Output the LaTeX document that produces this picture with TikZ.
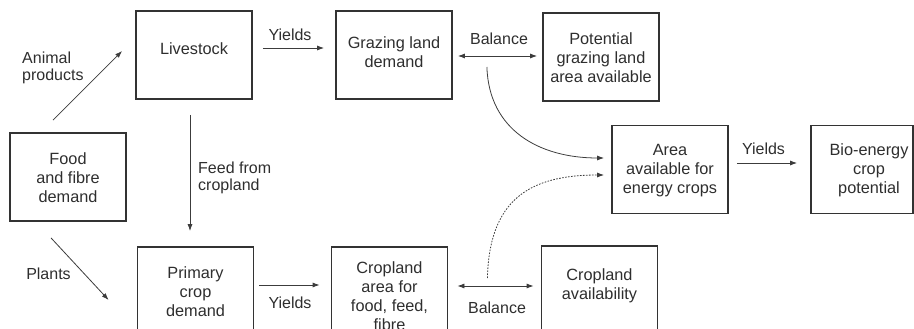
\documentclass[tikz,border=0pt]{standalone}
\usepackage{fontspec}
\setmainfont{Liberation Sans}
\usetikzlibrary{arrows.meta,calc}
\definecolor{boxc}{HTML}{333333}
\definecolor{txtc}{HTML}{2E2E2E}
\definecolor{linec}{HTML}{3C3C3C}
% first baseline of the text is placed #1 above the node centre
\newcommand\btext[2]{\raisebox{#1}[0pt][0pt]{\begin{tabular}[t]{@{}c@{}}#2\end{tabular}}}
\begin{document}
\begin{tikzpicture}[x=1pt,y=-1pt,
  box/.style={draw=boxc,line width=1.8pt,minimum width=116pt,minimum height=88pt,inner sep=0pt,text=txtc,font=\fontsize{16.3}{19}\selectfont},
  lab/.style={text=txtc,font=\fontsize{16}{17}\selectfont,inner sep=0pt},
  tip/.tip={Latex[length=7pt,width=5pt]},
  arr/.style={draw=linec,line width=0.8pt,-tip},
  darr/.style={draw=linec,line width=0.8pt,tip-tip}]
\useasboundingbox (0,0) rectangle (914,329);
\clip (0,0) rectangle (914,329);
% boxes
\node[box] (food) at (68,177) {\btext{12.7pt}{Food\\and fibre\\demand}};
\node[box] (live) at (194,55) {\btext{0pt}{Livestock}};
\node[box] (graz) at (394,55) {\btext{6.5pt}{Grazing land\\demand}};
\node[box] (pot) at (601,57) {\btext{12.5pt}{Potential\\grazing land\\area available}};
\node[box] (area) at (670,169.5) {\btext{14.5pt}{Area\\available for\\energy crops}};
\node[box,minimum width=102pt] (bio) at (862,169.5) {\hspace*{14pt}\btext{14.5pt}{Bio-energy\\crop\\potential}};
\node[box] (prim) at (195.5,291) {\btext{12.7pt}{Primary\\crop\\demand}};
\node[box] (cropa) at (389.5,291) {\btext{17.7pt}{Cropland\\area for\\food, feed,\\fibre}};
\node[box] (cropv) at (599.5,290) {\btext{9.3pt}{Cropland\\availability}};
% labels
\node[lab,align=left,anchor=west] (lap) at (22,68) {Animal\\products};
\node[lab] (ly1) at (290,35) {Yields};
\node[lab] (lb1) at (499,39) {Balance};
\node[lab,align=left,anchor=west] (lfeed) at (198,177.5) {Feed from\\cropland};
\node[lab] (lpl) at (48.5,274) {Plants};
\node[lab] (ly2) at (290,302.5) {Yields};
\node[lab] (lb2) at (497,307.5) {Balance};
\node[lab] (ly3) at (763.5,149) {Yields};
% connectors
\draw[arr] ($(food.north)+(-15,-12)$) -- ($(live.west)+(-13,-4)$);
\draw[arr] ($(live.east)+(10,-7)$) -- ($(graz.west)+(-11,-7)$);
\draw[darr] ($(graz.east)+(5,1)$) -- ($(pot.west)+(-5,-1)$);
\draw[arr] ($(graz.east)+(34,12)$) .. controls +(2,63) and +(-65,0) .. ($(area.west)+(-7,-11.5)$);
\draw[arr] ($(live.south)+(-4,15)$) -- ($(prim.north)+(-5.5,-15)$);
\draw[arr] ($(food.south)+(-17,16)$) -- ($(prim.west)+(-28,9)$);
\draw[arr] ($(prim.east)+(5,-6)$) -- ($(cropa.west)+(-11,-6)$);
\draw[darr] ($(cropa.east)+(9,-5)$) -- ($(cropv.west)+(-7,-4)$);
\draw[arr,dash pattern=on 1.6pt off 1.4pt] ($(cropa.east)+(39,-13)$) .. controls +(2,-78) and +(-75,0) .. ($(area.west)+(-7,5.5)$);
\draw[arr] ($(area.east)+(8,-6.5)$) -- ($(bio.west)+(-13,-6.5)$);
\end{tikzpicture}
\end{document}
